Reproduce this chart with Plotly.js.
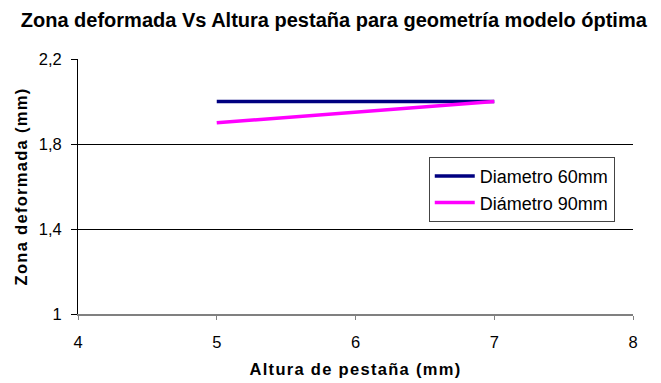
<!DOCTYPE html>
<html><head><meta charset="utf-8">
<script src="https://cdn.plot.ly/plotly-3.0.1.min.js"></script>
<style>
html,body{margin:0;padding:0;background:#fff;}
#chart{width:661px;height:383px;}
#chart .xtitle, #chart .ytitle{letter-spacing:1.3px;}
</style>
</head><body><div id="chart"></div>
<script>
const alturas = [5, 7];
const diametro60 = [2.0, 2.0];
const diametro90 = [1.9, 2.0];
const seriesNames = ["Diametro 60mm", "Diámetro 90mm"];
const seriesColors = ["#000080", "#FF00FF"];

const font = "Liberation Sans, Arial, sans-serif";
const data = [
  {x: alturas, y: diametro60, name: seriesNames[0], type: "scatter", mode: "lines", line: {color: seriesColors[0], width: 3.5}},
  {x: alturas, y: diametro90, name: seriesNames[1], type: "scatter", mode: "lines", line: {color: seriesColors[1], width: 3.5}}
];
const layout = {
  width: 661, height: 383,
  margin: {l: 78, r: 28, t: 59, b: 69},
  paper_bgcolor: "#fff", plot_bgcolor: "#fff",
  separators: ",.",
  font: {family: font, size: 16, color: "#000"},
  title: {text: "<b>Zona deformada Vs Altura pestaña para geometría modelo óptima</b>", x: 0.505, xanchor: "center", y: 0.948, yanchor: "middle", font: {size: 20, family: font}},
  xaxis: {range: [4, 8], dtick: 1, tick0: 4, showgrid: false, zeroline: false, showline: true, linecolor: "#808080", linewidth: 2,
    ticks: "outside", ticklen: 4, tickcolor: "#808080", tickfont: {size: 16.5}, ticklabelstandoff: 8,
    title: {text: "<b>Altura de pestaña (mm)</b>", font: {size: 16.5}, standoff: 14}},
  yaxis: {range: [1, 2.2], dtick: 0.4, tick0: 1, showgrid: true, gridcolor: "#000", gridwidth: 1, zeroline: false,
    showline: true, linecolor: "#000", linewidth: 1, ticks: "outside", ticklen: 6, tickcolor: "#000", tickfont: {size: 16.5},
    ticklabelstandoff: 6, tickformat: ".1~f",
    title: {text: "<b>Zona deformada (mm)</b>", font: {size: 16.5}, standoff: 6}},
  showlegend: true,
  legend: {x: 0.632, y: 0.616, xanchor: "left", yanchor: "top", bgcolor: "#fff", bordercolor: "#444", borderwidth: 1,
    font: {size: 18}, itemwidth: 40, tracegroupgap: 0}
};
Plotly.newPlot("chart", data, layout, {displayModeBar: false, staticPlot: true});
</script></body></html>
